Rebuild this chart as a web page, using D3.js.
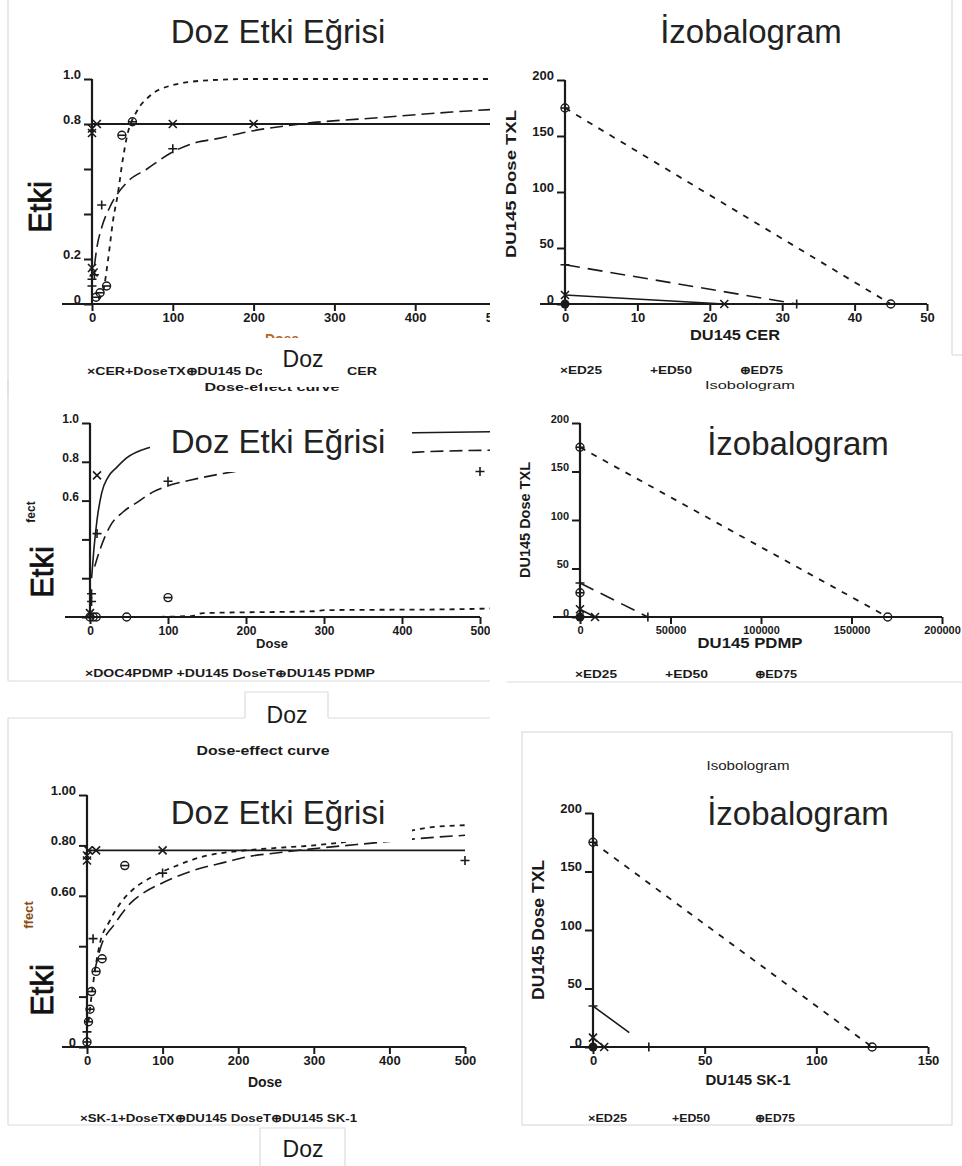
<!DOCTYPE html>
<html><head><meta charset="utf-8">
<script src="https://cdn.jsdelivr.net/npm/d3@7"></script>
<style>
body{margin:0;background:#fff}
svg{display:block}
text{font-family:"Liberation Sans",Arial,sans-serif}
</style></head><body>
<svg id="c" width="962" height="1166"></svg>
<script>
// ---------- dose-effect panels: shared axis ticks ----------
const doseTicks = [0, 100, 200, 300, 400, 500];
const effTicks = [0, 0.2, 0.4, 0.6, 0.8, 1.0];
const cerEffLabels = ["0", "0.2", "", "", "0.8", "1.0"];
const pdmpEffLabels = ["", "", "", "0.6", "0.8", "1.0"];
const sk1EffLabels = ["0", "", "", "0.60", "0.80", "1.00"];

// CER + TXL (DU145)
const cerFit = [[0, 0.8], [520, 0.8]];
const cerMarks = [[0, 0.76], [0, 0.78], [6, 0.8], [100, 0.8], [200, 0.8], [0, 0.16], [2, 0.14]];
const txlFit = [[3, 0.17], [6, 0.25], [12, 0.34], [22, 0.43], [43, 0.54], [68, 0.60], [97, 0.67], [126, 0.715], [155, 0.735], [192, 0.765], [258, 0.80], [362, 0.83], [445, 0.853], [520, 0.87]];
const txlMarks = [[0, 0.08], [0, 0.11], [3, 0.13], [12, 0.44], [100, 0.69]];
const cerCombFit = [[8, 0.02], [14, 0.06], [20, 0.2], [26, 0.37], [32, 0.49], [38, 0.64], [43, 0.74], [56, 0.86], [70, 0.92], [97, 0.97], [147, 0.995], [200, 1.0], [520, 1.0]];
const cerCombMarks = [[5, 0.03], [10, 0.05], [18, 0.08], [37, 0.75], [50, 0.81]];

// PDMP + TXL (DU145)
const pdmpFit = [[2, 0.2], [5, 0.35], [9, 0.5], [15, 0.64], [23, 0.72], [34, 0.77], [47, 0.82], [73, 0.87], [120, 0.9], [250, 0.93], [417, 0.95], [520, 0.955]];
const pdmpMarks = [[0, 0.02], [9, 0.73]];
const txl2Fit = [[6, 0.26], [13, 0.35], [26, 0.47], [42, 0.54], [60, 0.59], [81, 0.645], [103, 0.68], [128, 0.705], [171, 0.74], [300, 0.8], [420, 0.85], [520, 0.86]];
const txl2Marks = [[2, 0.08], [2, 0.12], [9, 0.43], [100, 0.70], [500, 0.75]];
const pdmpCombFit = [[0, 0], [60, 0.0], [130, 0.005], [145, 0.02], [290, 0.03], [300, 0.035], [470, 0.04], [520, 0.045]];
const pdmpCombMarks = [[0, 0], [4, 0], [8, 0], [47, 0], [100, 0.10]];

// SK-1 + TXL (DU145)
const sk1Fit = [[0, 0.78], [500, 0.78]];
const sk1Marks = [[0, 0.74], [0, 0.76], [2, 0.78], [12, 0.78], [100, 0.78]];
const txl3Fit = [[10, 0.3], [17, 0.385], [37, 0.49], [59, 0.575], [74, 0.61], [99, 0.65], [140, 0.70], [185, 0.735], [212, 0.755], [250, 0.77], [310, 0.79], [380, 0.81], [450, 0.83], [500, 0.84]];
const txl3Marks = [[0, 0.06], [8, 0.43], [100, 0.69], [500, 0.74]];
const sk1CombFit = [[2, 0.1], [8, 0.25], [17, 0.41], [30, 0.50], [44, 0.57], [59, 0.62], [86, 0.675], [119, 0.72], [159, 0.76], [193, 0.775], [250, 0.79], [300, 0.80], [400, 0.84], [450, 0.87], [500, 0.88]];
const sk1CombMarks = [[0, 0.02], [2, 0.1], [4, 0.15], [6, 0.22], [12, 0.3], [20, 0.35], [50, 0.72]];

// ---------- isobolograms ----------
const txlDoseTicks = [0, 50, 100, 150, 200];
const cerTicks = [0, 10, 20, 30, 40, 50];
const pdmpTicks = [0, 50000, 100000, 150000, 200000];
const sk1Ticks = [0, 50, 100, 150];

const ed25Cer = [[0, 8], [22, 0]];
const ed50Cer = [[0, 35], [32, 0]];
const ed75Cer = [[0, 175], [45, 0]];

const ed25Pdmp = [[0, 8], [8300, 0]];
const ed50Pdmp = [[0, 35], [37500, 0]];
const ed75Pdmp = [[0, 175], [170000, 0]];
const extraPdmp = [[0, 25]];

const ed25Sk1 = [[0, 8], [5, 0]];
const ed50Sk1 = [[0, 35], [25, 0]];
const ed75Sk1 = [[0, 175], [125, 0]];

const isoOrigin = [[0, 0]];

// ---------- drawing ----------
const svg = d3.select("#c");
const FRAME = "#dcdcdc";
const INK = "#1a1a1a";

const defs = svg.append("defs");
defs.append("clipPath").attr("id", "leftHalf").append("rect").attr("x", 0).attr("y", 0).attr("width", 490).attr("height", 1166);

function frameLine(x1, y1, x2, y2) {
  svg.append("line").attr("x1", x1).attr("y1", y1).attr("x2", x2).attr("y2", y2)
    .attr("stroke", FRAME).attr("stroke-width", 1.2);
}

const symbols = {
  cross: "M-4,-4L4,4M-4,4L4,-4",
  plus: "M-4.5,0H4.5M0,-4.5V4.5",
  theta: "M-4,0H4"
};

function marks(g, x, y, data, kind) {
  const sel = g.append("g").selectAll("g").data(data).join("g")
    .attr("transform", d => `translate(${x(d[0])},${y(d[1])})`);
  if (kind === "theta") {
    sel.append("circle").attr("r", 4).attr("fill", "none").attr("stroke", INK).attr("stroke-width", 1.4);
  }
  if (kind === "dot") {
    sel.append("circle").attr("r", 4.5).attr("fill", INK);
    return;
  }
  sel.append("path").attr("d", symbols[kind]).attr("stroke", INK).attr("stroke-width", 1.6).attr("fill", "none");
}

function curve(g, x, y, data, dash, width, smooth) {
  const line = d3.line().x(d => x(d[0])).y(d => y(d[1]));
  if (smooth) line.curve(d3.curveMonotoneX);
  g.append("path").attr("d", line(data)).attr("fill", "none")
    .attr("stroke", INK).attr("stroke-width", width || 1.6)
    .attr("stroke-dasharray", dash || null);
}

function panel(cfg) {
  const g = svg.append("g");
  if (cfg.clip) g.attr("clip-path", "url(#leftHalf)");
  const x = d3.scaleLinear().domain(cfg.xDomain).range(cfg.xRange);
  const y = d3.scaleLinear().domain(cfg.yDomain).range(cfg.yRange);
  const x0 = x(0), y0 = y(0);

  // y axis
  const ya = d3.axisLeft(y).tickValues(cfg.yTicks).tickSize(8).tickPadding(3)
    .tickFormat((d, i) => cfg.yLabels[i]);
  const yg = g.append("g").attr("transform", `translate(${x0},0)`).call(ya);
  yg.select(".domain").remove();
  yg.selectAll("line").attr("stroke", INK).attr("stroke-width", 2);
  yg.selectAll("text").attr("font-size", cfg.tickSize).attr("font-weight", "bold")
    .attr("fill", INK).attr("dy", "-0.05em").attr("font-family", "'Liberation Sans Narrow','Liberation Sans',sans-serif");

  // x axis
  const xa = d3.axisBottom(x).tickValues(cfg.xTicks).tickSize(7).tickPadding(2)
    .tickFormat(cfg.xFormat || (d => d));
  const xg = g.append("g").attr("transform", `translate(0,${y0})`).call(xa);
  xg.select(".domain").remove();
  xg.selectAll("line").attr("stroke", INK).attr("stroke-width", 2);
  xg.selectAll("text").attr("font-size", cfg.tickSize).attr("font-weight", "bold")
    .attr("fill", INK).attr("font-family", "'Liberation Sans Narrow','Liberation Sans',sans-serif");

  // axis lines (x line runs left past the origin)
  g.append("line").attr("x1", cfg.xStart).attr("x2", x(cfg.xDomain[1])).attr("y1", y0).attr("y2", y0)
    .attr("stroke", INK).attr("stroke-width", 2.2);
  g.append("line").attr("x1", x0).attr("x2", x0).attr("y1", y(cfg.yDomain[1])).attr("y2", y0)
    .attr("stroke", INK).attr("stroke-width", 2.2);
  return { g, x, y };
}

function txt(s, x, y, o) {
  o = o || {};
  const t = svg.append("text").attr("x", x).attr("y", y).text(s)
    .attr("text-anchor", o.anchor || "middle")
    .attr("font-size", o.size || 12)
    .attr("font-weight", o.weight || "normal")
    .attr("fill", o.fill || INK);
  if (o.family) t.attr("font-family", o.family);
  if (o.len) t.attr("textLength", o.len).attr("lengthAdjust", "spacingAndGlyphs");
  if (o.rotate) t.attr("transform", `rotate(-90,${x},${y})`);
  if (o.stroke) t.attr("stroke", o.fill || INK).attr("stroke-width", o.stroke);
  return t;
}
const NARROW = "'Liberation Sans Narrow','Liberation Sans',sans-serif";
function whiteBox(x, y, w, h) {
  svg.append("rect").attr("x", x).attr("y", y).attr("width", w).attr("height", h).attr("fill", "#fff");
}

// ---- frames of the individual figure pieces ----
frameLine(8, 0, 8, 398);
frameLine(952, 0, 952, 355); frameLine(952, 355, 962, 355);
frameLine(8, 380, 8, 681); frameLine(8, 681, 490, 681);
frameLine(507, 682, 962, 682);
frameLine(8, 718, 245, 718); frameLine(328, 718, 490, 718); frameLine(8, 718, 8, 1125); frameLine(8, 1125, 260, 1125);
svg.append("rect").attr("x", 522).attr("y", 732).attr("width", 430).attr("height", 393)
  .attr("fill", "none").attr("stroke", FRAME).attr("stroke-width", 1.2);

// ================= Panel 1: CER dose-effect =================
{
  const p = panel({ xDomain: [0, 500], xRange: [92, 496], yDomain: [0, 1], yRange: [304, 79],
    xTicks: doseTicks, yTicks: effTicks, yLabels: cerEffLabels, xStart: 62, tickSize: 13, clip: true });
  curve(p.g, p.x, p.y, cerFit, null, 1.8, false);
  curve(p.g, p.x, p.y, txlFit, "13,6", 1.6, true);
  curve(p.g, p.x, p.y, cerCombFit, "5,5", 1.8, true);
  marks(p.g, p.x, p.y, cerMarks, "cross");
  marks(p.g, p.x, p.y, txlMarks, "plus");
  marks(p.g, p.x, p.y, cerCombMarks, "theta");
}
txt("Dose", 282, 344, { size: 14, weight: "bold", fill: "#b8661e", family: NARROW });
txt("×CER+DoseTX⊕DU145 Dc", 87, 375, { anchor: "start", size: 11, weight: "bold", family: NARROW, len: 176 });
txt("CER", 347, 375, { anchor: "start", size: 11, weight: "bold", family: NARROW, len: 30 });
txt("Dose-effect curve", 272, 391, { size: 11, weight: "bold", family: NARROW, len: 135 });
whiteBox(262, 338, 84, 49);
txt("Doz", 303, 367, { size: 23 });
txt("Doz Etki Eğrisi", 278, 43, { size: 33, fill: "#222" });
txt("Etki", 51, 207, { size: 31, rotate: true, fill: "#111", stroke: 0.8 });

// ================= Panel 2: CER isobologram =================
{
  const p = panel({ xDomain: [0, 50], xRange: [565, 927], yDomain: [0, 200], yRange: [304, 80],
    xTicks: cerTicks, yTicks: txlDoseTicks, yLabels: txlDoseTicks.map(String), xStart: 540, tickSize: 13 });
  curve(p.g, p.x, p.y, ed25Cer, null, 1.6);
  curve(p.g, p.x, p.y, ed50Cer, "15,8", 1.6);
  curve(p.g, p.x, p.y, ed75Cer, "6,7", 1.8);
  marks(p.g, p.x, p.y, ed25Cer, "cross");
  marks(p.g, p.x, p.y, ed50Cer, "plus");
  marks(p.g, p.x, p.y, ed75Cer, "theta");
  marks(p.g, p.x, p.y, isoOrigin, "dot");
}
txt("İzobalogram", 751, 43, { size: 33, fill: "#222" });
txt("DU145 Dose TXL", 516, 184, { size: 15, weight: "bold", family: NARROW, rotate: true, len: 148 });
txt("DU145 CER", 735, 340, { size: 15, weight: "bold", family: NARROW, len: 90 });
txt("×ED25", 560, 374, { anchor: "start", size: 11, weight: "bold", family: NARROW, len: 42 });
txt("+ED50", 650, 374, { anchor: "start", size: 11, weight: "bold", family: NARROW, len: 42 });
txt("⊕ED75", 740, 374, { anchor: "start", size: 11, weight: "bold", family: NARROW, len: 43 });
txt("Isobologram", 750, 389, { size: 10, family: NARROW, len: 90 });

// ================= Panel 3: PDMP dose-effect =================
{
  const p = panel({ xDomain: [0, 500], xRange: [90, 480], yDomain: [0, 1], yRange: [617, 423],
    xTicks: doseTicks, yTicks: effTicks, yLabels: pdmpEffLabels, xStart: 65, tickSize: 12, clip: true });
  curve(p.g, p.x, p.y, pdmpFit, null, 1.6, true);
  curve(p.g, p.x, p.y, txl2Fit, "13,6", 1.6, true);
  curve(p.g, p.x, p.y, pdmpCombFit, "5,5", 1.8, true);
  marks(p.g, p.x, p.y, pdmpMarks, "cross");
  marks(p.g, p.x, p.y, txl2Marks, "plus");
  marks(p.g, p.x, p.y, pdmpCombMarks, "theta");
}
whiteBox(150, 408, 262, 64);
txt("Doz Etki Eğrisi", 278, 453, { size: 33, fill: "#222" });
txt("fect", 35, 512, { size: 12, weight: "bold", family: NARROW, rotate: true });
txt("Etki", 53, 572, { size: 31, rotate: true, fill: "#111", stroke: 0.8 });
txt("Dose", 272, 648, { size: 13, weight: "bold", family: NARROW });
txt("×DOC4PDMP +DU145 DoseT⊕DU145 PDMP", 85, 677, { anchor: "start", size: 10, weight: "bold", family: NARROW, len: 290 });

// ================= Panel 4: PDMP isobologram =================
{
  const p = panel({ xDomain: [0, 200000], xRange: [580, 942], yDomain: [0, 200], yRange: [617, 423],
    xTicks: pdmpTicks, yTicks: txlDoseTicks, yLabels: txlDoseTicks.map(String), xStart: 553, tickSize: 11,
    xFormat: d => String(d) });
  curve(p.g, p.x, p.y, ed25Pdmp, null, 1.6);
  curve(p.g, p.x, p.y, ed50Pdmp, "15,8", 1.6);
  curve(p.g, p.x, p.y, ed75Pdmp, "6,7", 1.8);
  marks(p.g, p.x, p.y, ed25Pdmp, "cross");
  marks(p.g, p.x, p.y, ed50Pdmp, "plus");
  marks(p.g, p.x, p.y, ed75Pdmp, "theta");
  marks(p.g, p.x, p.y, extraPdmp, "theta");
  marks(p.g, p.x, p.y, isoOrigin, "dot");
}
txt("İzobalogram", 798, 455, { size: 33, fill: "#222" });
txt("DU145 Dose TXL", 530, 520, { size: 14, weight: "bold", family: NARROW, rotate: true, len: 116 });
txt("DU145 PDMP", 750, 648, { size: 15, weight: "bold", family: NARROW, len: 105 });
txt("×ED25", 575, 678, { anchor: "start", size: 11, weight: "bold", family: NARROW, len: 42 });
txt("+ED50", 665, 678, { anchor: "start", size: 11, weight: "bold", family: NARROW, len: 43 });
txt("⊕ED75", 755, 678, { anchor: "start", size: 11, weight: "bold", family: NARROW, len: 42 });

// ================= Panel 5: SK-1 dose-effect =================
{
  const p = panel({ xDomain: [0, 500], xRange: [87, 465], yDomain: [0, 1], yRange: [1047, 795],
    xTicks: doseTicks, yTicks: effTicks, yLabels: sk1EffLabels, xStart: 62, tickSize: 13 });
  curve(p.g, p.x, p.y, sk1Fit, null, 1.8, false);
  curve(p.g, p.x, p.y, txl3Fit, "13,6", 1.6, true);
  curve(p.g, p.x, p.y, sk1CombFit, "5,5", 1.8, true);
  marks(p.g, p.x, p.y, sk1Marks, "cross");
  marks(p.g, p.x, p.y, txl3Marks, "plus");
  marks(p.g, p.x, p.y, sk1CombMarks, "theta");
}
whiteBox(150, 795, 262, 47);
txt("Doz Etki Eğrisi", 278, 824, { size: 33, fill: "#222" });
txt("Dose-effect curve", 263, 755, { size: 12, weight: "bold", family: NARROW, len: 133 });
txt("ffect", 33, 915, { size: 13, weight: "bold", family: NARROW, rotate: true, fill: "#8a4b16" });
txt("Etki", 53, 990, { size: 31, rotate: true, fill: "#111", stroke: 0.8 });
txt("Dose", 265, 1087, { size: 14, weight: "bold", family: NARROW });
txt("×SK-1+DoseTX⊕DU145 DoseT⊕DU145 SK-1", 80, 1122, { anchor: "start", size: 11, weight: "bold", family: NARROW, len: 277 });

// ================= Panel 6: SK-1 isobologram =================
{
  const p = panel({ xDomain: [0, 150], xRange: [593, 928], yDomain: [0, 200], yRange: [1047, 813],
    xTicks: sk1Ticks, yTicks: txlDoseTicks, yLabels: txlDoseTicks.map(String), xStart: 570, tickSize: 13 });
  curve(p.g, p.x, p.y, ed25Sk1, null, 1.6);
  curve(p.g, p.x, p.y, ed50Sk1, "45,30", 1.6);
  curve(p.g, p.x, p.y, ed75Sk1, "6,7", 1.8);
  marks(p.g, p.x, p.y, ed25Sk1, "cross");
  marks(p.g, p.x, p.y, ed50Sk1, "plus");
  marks(p.g, p.x, p.y, ed75Sk1, "theta");
  marks(p.g, p.x, p.y, isoOrigin, "dot");
}
txt("Isobologram", 748, 770, { size: 12, family: NARROW, len: 83 });
txt("İzobalogram", 798, 825, { size: 33, fill: "#222" });
txt("DU145 Dose TXL", 544, 930, { size: 16, weight: "bold", family: NARROW, rotate: true, len: 140 });
txt("DU145 SK-1", 748, 1085, { size: 15, weight: "bold", family: NARROW, len: 85 });
txt("×ED25", 588, 1122, { anchor: "start", size: 11, weight: "bold", family: NARROW, len: 39 });
txt("+ED50", 672, 1122, { anchor: "start", size: 11, weight: "bold", family: NARROW, len: 38 });
txt("⊕ED75", 755, 1122, { anchor: "start", size: 11, weight: "bold", family: NARROW, len: 40 });

// ---- "Doz" captions between the pieces ----
svg.append("path").attr("d", "M245,718V692H328V718").attr("fill", "none").attr("stroke", FRAME).attr("stroke-width", 1.2);
txt("Doz", 287, 723, { size: 23 });
svg.append("path").attr("d", "M260,1166V1128H345V1166").attr("fill", "none").attr("stroke", FRAME).attr("stroke-width", 1.2);
txt("Doz", 303, 1157, { size: 23 });
</script>
</body></html>
